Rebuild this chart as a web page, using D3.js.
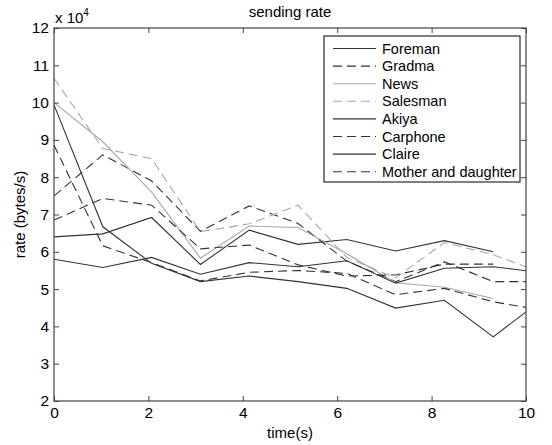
<!DOCTYPE html>
<html>
<head>
<meta charset="utf-8">
<script src="https://cdn.jsdelivr.net/npm/d3@7"></script>
<style>
body { margin: 0; background: #fff; }
text { font-family: "Liberation Sans", Arial, sans-serif; fill: #000; }
</style>
</head>
<body>
<svg id="chart"></svg>
<script>
// sample times (s)
const times = [0, 1.034, 2.068, 3.102, 4.136, 5.17, 6.204, 7.238, 8.272, 9.306, 10];

// sending rate per sequence (bytes/s)
const foreman  = [64000, 64800, 69200, 56600, 65800, 62000, 63300, 60200, 63000, 60000];
const gradma   = [75000, 86000, 79000, 65500, 72300, 67600, 57500, 52000, 57300, 52000, 52000];
const news     = [100000, 89500, 76000, 58300, 66900, 66500, 59500, 51700, 50500, 47500];
const salesman = [106500, 87700, 85000, 65400, 67500, 72500, 58500, 53000, 62500, 59200, 56000];
const akiya    = [58000, 55800, 58500, 54000, 57100, 56000, 57600, 51600, 55600, 56000, 54900];
const carphone = [68500, 74300, 72500, 60800, 61800, 56500, 53500, 53800, 56700, 56700];
const claire   = [99400, 66700, 56900, 52000, 53500, 52000, 50200, 44900, 47000, 37200, 43900];
const mother   = [88600, 61600, 57100, 52200, 54500, 55000, 54200, 48500, 50200, 46600, 45100];

const names = ["Foreman", "Gradma", "News", "Salesman", "Akiya", "Carphone", "Claire", "Mother and daughter"];
const xTicks = [0, 2, 4, 6, 8, 10];
const yTicks = [2, 3, 4, 5, 6, 7, 8, 9, 10, 11, 12];

const dark = "#333", light = "#a8a8a8";
const series = [
  {name: names[0], values: foreman,  color: dark,  dash: null},
  {name: names[1], values: gradma,   color: dark,  dash: "9,5"},
  {name: names[2], values: news,     color: light, dash: null},
  {name: names[3], values: salesman, color: light, dash: "9,5"},
  {name: names[4], values: akiya,    color: dark,  dash: null},
  {name: names[5], values: carphone, color: dark,  dash: "9,5"},
  {name: names[6], values: claire,   color: dark,  dash: null},
  {name: names[7], values: mother,   color: dark,  dash: "9,5"}
];

const W = 552, H = 445;
const m = {left: 54, top: 28, right: 26, bottom: 44};
const w = W - m.left - m.right;
const h = H - m.top - m.bottom;

const svg = d3.select("#chart").attr("width", W).attr("height", H);
const g = svg.append("g").attr("transform", `translate(${m.left},${m.top})`);

const x = d3.scaleLinear().domain([0, 10]).range([0, w]);
const y = d3.scaleLinear().domain([20000, 120000]).range([h, 0]);

g.append("clipPath").attr("id", "clip")
  .append("rect").attr("width", w).attr("height", h);

// lines
const line = d3.line()
  .x((d, i) => x(times[i]))
  .y(d => y(d));

g.append("g").attr("clip-path", "url(#clip)")
  .selectAll("path")
  .data(series)
  .enter()
  .append("path")
  .attr("d", d => line(d.values))
  .attr("fill", "none")
  .attr("stroke", d => d.color)
  .attr("stroke-width", 1.1)
  .attr("stroke-dasharray", d => d.dash);

// axes, ticks pointing inward
const axisColor = "#444";
const xAxis = g.append("g").attr("transform", `translate(0,${h})`)
  .call(d3.axisBottom(x).tickValues(xTicks).tickSizeInner(-5).tickSizeOuter(0).tickPadding(6));
const yAxis = g.append("g")
  .call(d3.axisLeft(y).tickValues(yTicks.map(v => v * 1e4)).tickFormat(d => d / 1e4)
    .tickSizeInner(-5).tickSizeOuter(0).tickPadding(5));
const xTop = g.append("g")
  .call(d3.axisTop(x).tickValues(xTicks).tickSizeInner(-5).tickSizeOuter(0).tickFormat(""));
const yRight = g.append("g").attr("transform", `translate(${w},0)`)
  .call(d3.axisRight(y).tickValues(yTicks.map(v => v * 1e4)).tickSizeInner(-5).tickSizeOuter(0).tickFormat(""));

[xAxis, yAxis, xTop, yRight].forEach(a => {
  a.select(".domain").remove();
  a.selectAll("line").attr("stroke", axisColor);
  a.selectAll("text").attr("font-size", 15.5).attr("font-family", '"Liberation Sans", Arial, sans-serif').attr("fill", "#000");
});

g.append("rect")
  .attr("width", w).attr("height", h)
  .attr("fill", "none")
  .attr("stroke", axisColor)
  .attr("stroke-width", 1.2);

// titles
svg.append("text").attr("x", m.left + w / 2).attr("y", 17)
  .attr("text-anchor", "middle").attr("font-size", 15).text("sending rate");
svg.append("text").attr("x", m.left + w / 2).attr("y", 438)
  .attr("text-anchor", "middle").attr("font-size", 15).text("time(s)");
svg.append("text").attr("transform", `translate(25,${m.top + h / 2}) rotate(-90)`)
  .attr("text-anchor", "middle").attr("font-size", 15).text("rate (bytes/s)");

const exp = svg.append("text").attr("x", 55).attr("y", 23).attr("font-size", 15);
exp.append("tspan").text("x 10");
exp.append("tspan").attr("font-size", 10).attr("dy", -7).text("4");

// legend
const legend = svg.append("g").attr("transform", "translate(324,36)");
legend.append("rect")
  .attr("width", 196).attr("height", 146)
  .attr("fill", "#fff").attr("stroke", "#000").attr("stroke-width", 1);

const items = legend.selectAll("g.item")
  .data(series)
  .enter()
  .append("g")
  .attr("class", "item")
  .attr("transform", (d, i) => `translate(0,${12.5 + i * 17.6})`);

items.append("line")
  .attr("x1", 9).attr("x2", 52)
  .attr("stroke", d => d.color)
  .attr("stroke-width", 1.1)
  .attr("stroke-dasharray", d => d.dash);

items.append("text")
  .attr("x", 58).attr("y", 5)
  .attr("font-size", 14.5)
  .text(d => d.name);
</script>
</body>
</html>
